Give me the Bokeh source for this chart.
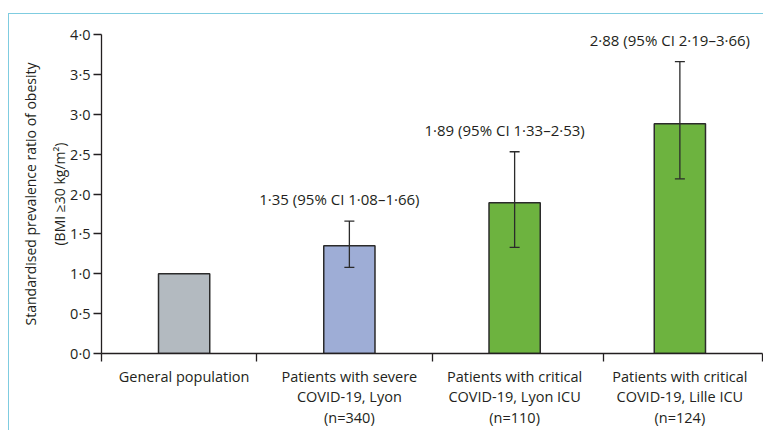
from bokeh.plotting import figure
from bokeh.models import ColumnDataSource, Whisker, TeeHead, FixedTicker, Range1d
from bokeh.core.properties import value
from bokeh.embed import file_html
from bokeh.resources import INLINE

# ---- data ----
categories = [
    "General population",
    "Patients with severe\nCOVID-19, Lyon\n(n=340)",
    "Patients with critical\nCOVID-19, Lyon ICU\n(n=110)",
    "Patients with critical\nCOVID-19, Lille ICU\n(n=124)",
]
ratios = [1.00, 1.35, 1.89, 2.88]
ci_lower = [1.08, 1.33, 2.19]   # for bars 2-4
ci_upper = [1.66, 2.53, 3.66]
bar_colors = ["#b3bac0", "#9eadd6", "#6db33f", "#6db33f"]
y_ticks = [0.0, 0.5, 1.0, 1.5, 2.0, 2.5, 3.0, 3.5, 4.0]
y_tick_labels = ["0·0", "0·5", "1·0", "1·5", "2·0", "2·5", "3·0", "3·5", "4·0"]

FONT = "Open Sans"
TXT = "#231f20"
FRAME = "#7fcce0"

xs = [i + 0.5 for i in range(len(categories))]
bars = ColumnDataSource(dict(x=xs, top=ratios, color=bar_colors))
ci_x = xs[1:]
ci_text = [
    f"{r:.2f} (95% CI {lo:.2f}–{hi:.2f})".replace(".", "·")
    for r, lo, hi in zip(ratios[1:], ci_lower, ci_upper)
]
ci = ColumnDataSource(dict(x=ci_x, lower=ci_lower, upper=ci_upper, label=ci_text))

p = figure(
    frame_width=661, frame_height=319,
    x_range=Range1d(0, 4), y_range=Range1d(0, 4),
    output_backend="svg", toolbar_location=None,
    min_border_left=92, min_border_right=1, min_border_top=20, min_border_bottom=0,
)
p.margin = (13, 0, 0, 8)
p.styles = {
    "border-top": "1.5px solid " + FRAME,
    "border-left": "1.5px solid " + FRAME,
}
p.outline_line_color = None
p.xgrid.visible = False
p.ygrid.visible = False
p.background_fill_color = "white"
p.border_fill_color = "white"

p.vbar(x="x", top="top", bottom=0, width=0.31, source=bars,
       fill_color="color", line_color="#2b2b2b", line_width=1.5)

p.add_layout(Whisker(source=ci, base="x", lower="lower", upper="upper", level="annotation",
                     line_color="#2b2b2b", line_width=1.3,
                     upper_head=TeeHead(size=10, line_color="#2b2b2b", line_width=1.3),
                     lower_head=TeeHead(size=10, line_color="#2b2b2b", line_width=1.3)))

p.text(x="x", y="upper", text="label", source=ci,
       text_font=value(FONT), text_font_size="15px", text_color=TXT,
       text_align="center", text_baseline="bottom", x_offset=-10, y_offset=-12)

# y axis
ya = p.yaxis[0]
ya.ticker = FixedTicker(ticks=y_ticks, minor_ticks=[])
ya.major_label_overrides = {t: s for t, s in zip(y_ticks, y_tick_labels)}
ya.major_tick_out = 8
ya.major_tick_in = 0
ya.minor_tick_out = 0
ya.minor_tick_in = 0
ya.major_label_standoff = 3
ya.major_label_text_font = FONT
ya.major_label_text_font_size = "14.5px"
ya.major_label_text_color = TXT
ya.axis_line_color = TXT
ya.axis_line_width = 1.3
ya.major_tick_line_color = TXT
ya.major_tick_line_width = 1.3
ya.axis_label = "Standardised prevalence ratio of obesity\n(BMI ≥30 kg/m²)"
ya.axis_label_text_font = FONT
ya.axis_label_text_font_size = "14px"
ya.axis_label_text_font_style = "normal"
ya.axis_label_text_color = TXT
ya.axis_label_text_line_height = 1.55
ya.axis_label_standoff = -2

# x axis
xa = p.xaxis[0]
xa.ticker = FixedTicker(ticks=xs, minor_ticks=[0, 0.94, 2.0, 3.04, 4])
xa.major_label_overrides = {x: c for x, c in zip(xs, categories)}
xa.major_tick_out = 0
xa.major_tick_in = 0
xa.minor_tick_out = 8
xa.minor_tick_in = 0
xa.minor_tick_line_color = TXT
xa.minor_tick_line_width = 1.3
xa.major_label_standoff = 5
xa.major_label_text_font = FONT
xa.major_label_text_font_size = "14.5px"
xa.major_label_text_color = TXT
xa.major_label_text_line_height = 1.1
xa.axis_line_color = TXT
xa.axis_line_width = 1.3

open("out.html", "w").write(file_html(p, INLINE))
